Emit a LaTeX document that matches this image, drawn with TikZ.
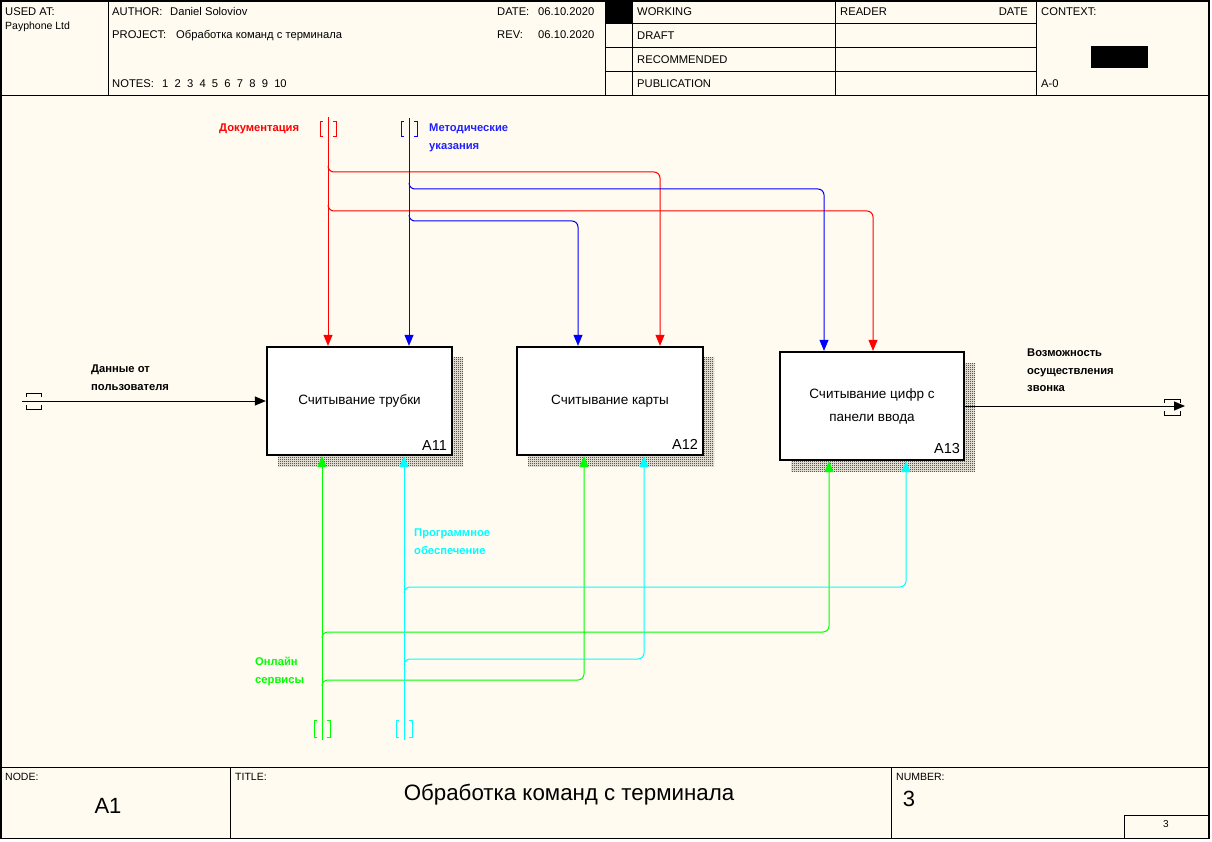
\documentclass[tikz,border=0pt]{standalone}
\usepackage{fontspec}
\setmainfont{Liberation Sans}
\usetikzlibrary{arrows.meta,patterns,calc}
\definecolor{bg}{HTML}{FFFBF0}
\definecolor{cgreen}{HTML}{00FF00}
\definecolor{ccyan}{HTML}{00FFFF}
\definecolor{cblue}{HTML}{0000FF}
\definecolor{cred}{HTML}{FF0000}
\definecolor{lblue}{HTML}{2020FF}
\pgfdeclarepatternformonly{checker}{\pgfqpoint{0pt}{0pt}}{\pgfqpoint{2pt}{2pt}}{\pgfqpoint{2pt}{2pt}}{%
  \pgfpathrectangle{\pgfqpoint{0pt}{0pt}}{\pgfqpoint{1pt}{1pt}}%
  \pgfpathrectangle{\pgfqpoint{1pt}{1pt}}{\pgfqpoint{1pt}{1pt}}%
  \pgfusepath{fill}}
\begin{document}
\begin{tikzpicture}[x=1pt,y=-1pt,
  hdr/.style={font=\fontsize{11.2}{13}\selectfont, anchor=base west, inner sep=0pt},
  hdrs/.style={font=\fontsize{10.5}{12}\selectfont, anchor=base west, inner sep=0pt},
  big/.style={font=\fontsize{22}{26}\selectfont, anchor=center, inner sep=0pt},
  lbl/.style={font=\bfseries\fontsize{11.2}{17.5}\selectfont, anchor=north west, align=left, inner sep=0pt},
  act/.style={draw, line width=2.3pt, fill=white, inner sep=0pt, align=center,
    font=\fontsize{13.5}{23}\selectfont},
  anum/.style={font=\fontsize{14.5}{16}\selectfont, anchor=base east, inner sep=0pt},
  shadow/.style={pattern=checker, pattern color=black},
  frm/.style={line width=1pt},
  arr/.style={line width=1pt, rounded corners=6pt, -{Triangle[length=11pt,width=9pt]}},
  tun/.style={line width=1pt}]
\useasboundingbox (0,0) rectangle (1212,842);
\fill[bg] (0,0) rectangle (1210,839);

% ---------- frame ----------
\draw[frm] (0,96) -- (1210,96);
\draw[frm] (0,767) -- (1210,767);
\draw[frm] (108,0) -- (108,96);
\draw[frm] (605,0) -- (605,96);
\draw[frm] (632,0) -- (632,96);
\draw[frm] (835,0) -- (835,96);
\draw[frm] (1036,0) -- (1036,96);
\draw[frm] (605,24) -- (1036,24);
\draw[frm] (605,48) -- (1036,48);
\draw[frm] (605,72) -- (1036,72);
\fill (605,0) rectangle (632,24);
\fill (1091,46) rectangle (1148,68);
\draw[frm] (230,767) -- (230,839);
\draw[frm] (891,767) -- (891,839);
\draw[frm] (1124,839) -- (1124,815) -- (1210,815);
\draw[line width=1.6pt] (0.8,0.8) rectangle (1209.2,838.5);

% header texts
\node[hdr] (usedat) at (5,16) {USED AT:};
\node[hdrs] (usedv) at (5,30) {Payphone Ltd};
\node[hdr] (auth) at (112,16) {AUTHOR:};
\node[hdr] (authv) at (170,16) {Daniel Soloviov};
\node[hdr] (proj) at (112,39) {PROJECT:};
\node[hdr] (projv) at (176,39) {Обработка команд с терминала};
\node[hdr] (notes) at (112,88) {NOTES:};
\node[hdr] (notesv) at (162,88) {1\ \ 2\ \ 3\ \ 4\ \ 5\ \ 6\ \ 7\ \ 8\ \ 9\ \ 10};
\node[hdr] (date) at (497,16) {DATE:};
\node[hdr] (datev) at (538,16) {06.10.2020};
\node[hdr] (rev) at (497,39) {REV:};
\node[hdr] (revv) at (538,39) {06.10.2020};
\node[hdr] (work) at (637,16) {WORKING};
\node[hdr] (draft) at (637,40) {DRAFT};
\node[hdr] (recom) at (637,64) {RECOMMENDED};
\node[hdr] (publ) at (637,88) {PUBLICATION};
\node[hdr] (reader) at (840,16) {READER};
\node[hdr, anchor=base east] (rdate) at (1028,16) {DATE};
\node[hdr] (ctx) at (1041,16) {CONTEXT:};
\node[hdr] (ctxv) at (1041,88) {A-0};

% footer texts
\node[hdrs] (nodel) at (5,780) {NODE:};
\node[big] (nodev) at (108,806) {A1};
\node[hdrs] (titl) at (235,780) {TITLE:};
\node[font=\fontsize{22.3}{27}\selectfont, inner sep=0pt] (titv) at (569,795) {Обработка команд с терминала};
\node[hdrs] (numl) at (896,780) {NUMBER:};
\node[big] (numv) at (909,799) {3};
\node[font=\fontsize{10}{12}\selectfont, inner sep=0pt] (pg) at (1166,824) {3};

% ---------- shadows ----------
\fill[shadow] (278,357) rectangle (463,466);
\fill[shadow] (528,357) rectangle (714,466);
\fill[shadow] (791,363) rectangle (975,471);

% ---------- activity boxes ----------
\node[act, minimum width=185pt, minimum height=108pt] (a11) at (359.5,401) {Считывание трубки};
\node[act, minimum width=186pt, minimum height=108pt] (a12) at (610,401) {Считывание карты};
\node[act, minimum width=184pt, minimum height=108pt] (a13) at (872,406) {Считывание цифр с\\панели ввода};
\node[anum] (n11) at ($(a11.south east)+(-6,-6)$) {A11};
\node[anum] (n12) at ($(a12.south east)+(-6,-7)$) {A12};
\node[anum] (n13) at ($(a13.south east)+(-5,-8)$) {A13};

% ---------- tunnel end points ----------
\coordinate (docT) at (328,117);
\coordinate (metT) at (409,118);
\coordinate (inT) at (22,401);
\coordinate (outT) at (1185,406);
\coordinate (onlT) at (322,740);
\coordinate (swT) at (404,740);

% tunnels
\draw[tun, cred] (323,122) -- (320,122) -- (320,137) -- (323,137);
\draw[tun, cred] (333,122) -- (336,122) -- (336,137) -- (333,137);
\draw[tun, cblue] (404,122) -- (401,122) -- (401,137) -- (404,137);
\draw[tun, cblue] (414,122) -- (417,122) -- (417,137) -- (414,137);
\draw[tun, cgreen] (317,720) -- (314,720) -- (314,737) -- (317,737);
\draw[tun, cgreen] (327,720) -- (330,720) -- (330,737) -- (327,737);
\draw[tun, ccyan] (399,720) -- (396,720) -- (396,737) -- (399,737);
\draw[tun, ccyan] (409,720) -- (412,720) -- (412,737) -- (409,737);
\draw[tun] (26,397) -- (26,393) -- (41,393) -- (41,397);
\draw[tun] (26,405) -- (26,409) -- (41,409) -- (41,405);
\draw[tun] (1164,403) -- (1164,399) -- (1180,399) -- (1180,403);
\draw[tun] (1164,411) -- (1164,415) -- (1180,415) -- (1180,411);

% ---------- controls (top) ----------
\draw[arr, cred] (docT) -- (docT |- a11.north);
\draw[arr, cred] (docT |- 0,166) -- (docT |- 0,172) -- (660,172) -- (a12.north -| 660,0);
\draw[arr, cred] (docT |- 0,205) -- (docT |- 0,211) -- (873,211) -- (a13.north -| 873,0);
\draw[arr, cblue] (metT) -- (metT |- a11.north);
\draw[arr, cblue] (metT |- 0,183) -- (metT |- 0,189) -- (824,189) -- (a13.north -| 824,0);
\draw[arr, cblue] (metT |- 0,215) -- (metT |- 0,221) -- (578,221) -- (a12.north -| 578,0);

% ---------- mechanisms (bottom) ----------
\draw[arr, cgreen] (onlT) -- (onlT |- a11.south);
\draw[arr, cgreen] (onlT |- 0,638) -- (onlT |- 0,632) -- (829,632) -- (a13.south -| 829,0);
\draw[arr, cgreen] (onlT |- 0,686) -- (onlT |- 0,680) -- (584,680) -- (a12.south -| 584,0);
\draw[arr, ccyan] (swT) -- (swT |- a11.south);
\draw[arr, ccyan] (swT |- 0,593) -- (swT |- 0,587) -- (906,587) -- (a13.south -| 906,0);
\draw[arr, ccyan] (swT |- 0,665) -- (swT |- 0,659) -- (644,659) -- (a12.south -| 644,0);

% ---------- input / output ----------
\draw[arr] (inT) -- (a11.west);
\draw[arr] (a13.east) -- (outT);

% ---------- labels ----------
\node[lbl, text=cred] (ldoc) at (219,124) {Документация};
\node[lbl, text=lblue] (lmet) at (429,124) {Методические\\указания};
\node[lbl] (lin) at (91,365) {Данные от\\пользователя};
\node[lbl] (lout) at (1027,349) {Возможность\\осуществления\\звонка};
\node[lbl, text=ccyan] (lsw) at (414,529) {Программное\\обеспечение};
\node[lbl, text=cgreen] (lonl) at (255,657) {Онлайн\\сервисы};
\end{tikzpicture}
\end{document}
